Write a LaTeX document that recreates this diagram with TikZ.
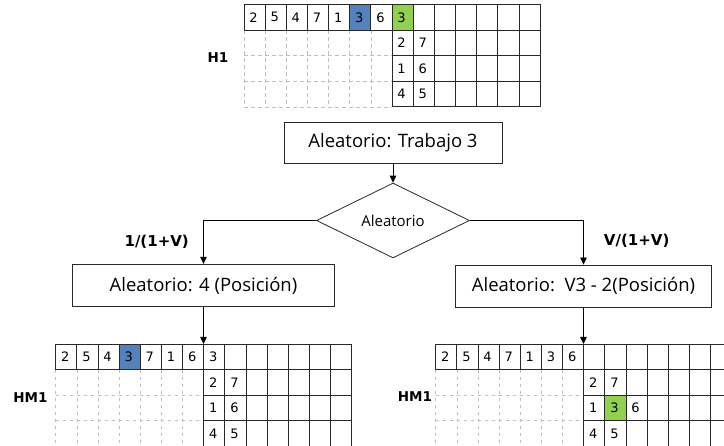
\documentclass[tikz,border=0pt]{standalone}
\usepackage{fontspec}
\setmainfont{Open Sans}
\newfontfamily\gridfont{DejaVu Sans}
\usetikzlibrary{shapes.geometric,arrows.meta}
\definecolor{cellblue}{RGB}{84,130,190}
\definecolor{cellgreen}{RGB}{146,208,80}
\definecolor{dashgray}{RGB}{190,190,190}
\definecolor{linegray}{RGB}{40,40,40}
\newcommand{\cellw}{21.15}
\newcommand{\cellh}{25.6}
% grid skeleton at (x0,y0)
\newcommand{\drawgrid}[2]{%
  \begin{scope}[shift={(#1,#2)}]
    \foreach \i in {0,...,7} \draw[dashline] (\i*\cellw,\cellh) -- (\i*\cellw,4*\cellh);
    \foreach \j in {2,3,4} \draw[dashline] (0,\j*\cellh) -- (7*\cellw,\j*\cellh);
    \draw[gridline] (0,0) rectangle (14*\cellw,\cellh);
    \foreach \i in {1,...,13} \draw[gridline] (\i*\cellw,0) -- (\i*\cellw,\cellh);
    \foreach \j in {2,3,4} \draw[gridline] (7*\cellw,\j*\cellh) -- (14*\cellw,\j*\cellh);
    \foreach \i in {7,...,14} \draw[gridline] (\i*\cellw,\cellh) -- (\i*\cellw,4*\cellh);
  \end{scope}}
% fill a cell: x0,y0,col,row,color
\newcommand{\fillcell}[5]{%
  \fill[#5] ({#1+(#3-1)*\cellw},{#2+(#4-1)*\cellh}) rectangle ({#1+#3*\cellw},{#2+#4*\cellh});}
% numbers: name,x0,y0,list col/row/text
\newcommand{\gridnums}[4]{%
  \foreach \c/\r/\t in {#4}
    \node[num] (#1-\c-\r) at ({#2+(\c-0.5)*\cellw-1},{#3+(\r-0.5)*\cellh}) {\t};}
\tikzset{
  dashline/.style={draw=dashgray, dash pattern=on 3.5pt off 3.5pt, line width=0.7pt},
  gridline/.style={draw=linegray, line width=0.9pt},
  num/.style={inner sep=0pt, font=\gridfont\fontsize{13}{15}\selectfont},
  box/.style={draw=linegray, line width=0.8pt, fill=white, inner sep=0pt, font=\fontsize{18.5}{21}\selectfont},
  dia/.style={diamond, draw=linegray, line width=0.8pt, inner sep=0pt, font=\fontsize{15}{17}\selectfont},
  lab/.style={inner sep=0pt, font=\gridfont\bfseries\fontsize{15}{17}\selectfont},
  glab/.style={inner sep=0pt, font=\gridfont\bfseries\fontsize{13.5}{16}\selectfont},
  arr/.style={draw=black, line width=0.8pt, -{Triangle[length=7pt,width=6.5pt]}}
}
\begin{document}
\begin{tikzpicture}[x=1pt,y=-1pt]
\useasboundingbox (0,0) rectangle (724,446);
\clip (0,0) rectangle (724,446);
\fill[white] (0,0) rectangle (724,446);

% ---- top grid H1
\fillcell{244}{4.5}{6}{1}{cellblue}
\fillcell{244}{4.5}{8}{1}{cellgreen}
\drawgrid{244}{4.5}
\gridnums{h}{244}{4.5}{1/1/2,2/1/5,3/1/4,4/1/7,5/1/1,6/1/3,7/1/6,8/1/3,8/2/2,9/2/7,8/3/1,9/3/6,8/4/4,9/4/5}
\node[glab] (H1) at (218,58) {H1};

% ---- flowchart
\node[box, minimum width=218pt, minimum height=41pt] (top) at (393,142.5) {Aleatorio: Trabajo 3};
\node[dia, minimum width=153pt, minimum height=65pt] (dec) at (393,220.5) {Aleatorio};
\node[box, minimum width=262pt, minimum height=42.5pt] (lbox) at (203.5,285.5) {Aleatorio: 4 (Posición)};
\node[box, minimum width=256.5pt, minimum height=42pt] (rbox) at (583.5,286) {Aleatorio:\ \ V3 - 2(Posición)};
\node[lab] (pl) at (156.7,241.5) {1/(1+V)};
\node[lab] (pr) at (636.7,240.5) {V/(1+V)};

\coordinate (gL) at (203.5,344);
\coordinate (gR) at (583.5,344);

\draw[arr] (top) -- (dec);
\draw[arr] (dec.west) -| (lbox.north);
\draw[arr] (dec.east) -| (rbox.north);
\draw[arr] (lbox) -- (gL);
\draw[arr] (rbox) -- (gR);

% ---- bottom left grid HM1
\fillcell{55.7}{344}{4}{1}{cellblue}
\drawgrid{55.7}{344}
\gridnums{bl}{55.7}{344}{1/1/2,2/1/5,3/1/4,4/1/3,5/1/7,6/1/1,7/1/6,8/1/3,8/2/2,9/2/7,8/3/1,9/3/6,8/4/4,9/4/5}
\node[glab] (HM1a) at (30.5,398) {HM1};

% ---- bottom right grid HM1
\fillcell{435.7}{344}{9}{3}{cellgreen}
\drawgrid{435.7}{344}
\gridnums{br}{435.7}{344}{1/1/2,2/1/5,3/1/4,4/1/7,5/1/1,6/1/3,7/1/6,8/2/2,9/2/7,8/3/1,9/3/3,10/3/6,8/4/4,9/4/5}
\node[glab] (HM1b) at (415,397) {HM1};
\end{tikzpicture}
\end{document}
